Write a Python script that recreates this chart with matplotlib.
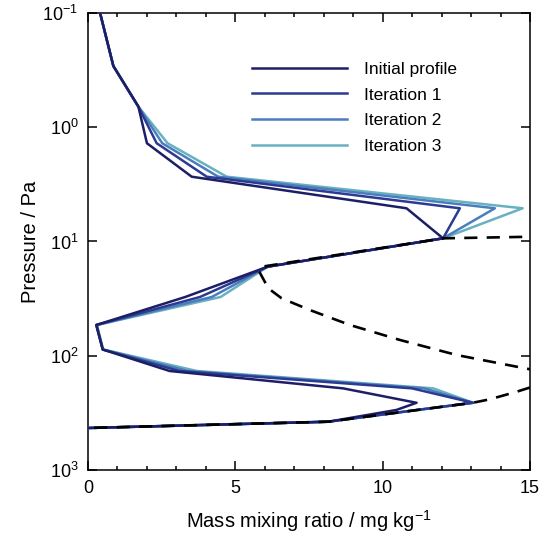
import numpy as np
import matplotlib
matplotlib.use("Agg")
import matplotlib.pyplot as plt
from matplotlib.ticker import MultipleLocator, LogLocator, NullLocator

plt.rcParams['font.family'] = ['Liberation Sans', 'DejaVu Sans']
plt.rcParams['mathtext.default'] = 'regular'

# pressure levels (Pa), shared by all profiles
pressure = [0.1, 0.291, 0.66, 1.38, 2.71, 5.12, 9.38, 16.6, 30.6, 53.8,
            88.2, 136, 193, 258, 298, 378, 429]

# mass mixing ratio (mg/kg) at each level
initial = [0.41, 0.86, 1.71, 2.00, 3.52, 10.81, 12.05, 6.10, 3.30, 0.28,
           0.50, 2.77, 8.66, 11.15, 10.47, 8.15, 0.0]
iter1 = [0.41, 0.86, 1.71, 2.33, 4.03, 12.62, 12.05, 6.10, 3.80, 0.28,
         0.50, 3.10, 11.00, 13.07, 11.18, 8.15, 0.0]
iter2 = [0.41, 0.86, 1.71, 2.52, 4.42, 13.81, 12.05, 6.10, 4.20, 0.30,
         0.50, 3.40, 11.40, 13.07, 11.18, 8.15, 0.0]
iter3 = [0.41, 0.86, 1.71, 2.70, 4.71, 14.75, 12.05, 6.10, 4.50, 0.30,
         0.52, 3.70, 11.72, 13.07, 11.18, 8.15, 0.0]

labels = ['Initial profile', 'Iteration 1', 'Iteration 2', 'Iteration 3']
colors = ['#1d1f66', '#2c3b92', '#4b7dbd', '#68b1c0']

# dashed reference curve (x, p)
ref_x = [15.5, 12.05, 5.85, 5.80, 6.12, 6.57, 7.53, 8.89, 10.59, 12.51,
         15.0, 15.8, 15.0, 14.55, 13.64, 13.07, 8.15, 0.0]
ref_p = [9.04, 9.38, 16.7, 18.1, 25.7, 31.4, 39.8, 53.8, 72.8, 98.5,
         131.4, 156.6, 189.7, 206.4, 240.5, 257.6, 377.7, 428.8]

fig = plt.figure(figsize=(5.5, 5.35), dpi=100)
ax = fig.add_axes([0.16, 0.1215, 0.8036, 0.8542])

# later iterations underneath, initial profile on top
profiles = [initial, iter1, iter2, iter3]
for i, (x, lab, c) in enumerate(zip(profiles, labels, colors)):
    ax.plot(x, pressure, color=c, lw=1.8, label=lab, zorder=3.9 - 0.1 * i)
ax.plot(ref_x, ref_p, color='black', lw=1.9, dashes=(5, 3.5), zorder=4)

ax.set_yscale('log')
ax.set_ylim(1e3, 1e-1)
ax.set_xlim(0, 15)
ax.xaxis.set_major_locator(MultipleLocator(5))
ax.xaxis.set_minor_locator(MultipleLocator(1))
ax.yaxis.set_major_locator(LogLocator(base=10, numticks=10))
ax.yaxis.set_minor_locator(NullLocator())

ax.tick_params(which='both', direction='in', top=True, right=True, width=1.1)
ax.tick_params(which='major', length=6.5, labelsize=13)
ax.tick_params(which='minor', length=3)
ax.tick_params(axis='x', pad=7)
ax.tick_params(axis='y', pad=7)
for s in ax.spines.values():
    s.set_linewidth(1.1)

ax.set_xlabel('Mass mixing ratio / mg kg$^{-1}$', fontsize=14.5, labelpad=8)
ax.set_ylabel('Pressure / Pa', fontsize=14.5, labelpad=2)

ax.legend(loc='center left', bbox_to_anchor=(0.371, 0.7926), frameon=False,
          fontsize=12.5, handlelength=5.45, handletextpad=1.0,
          labelspacing=0.6, borderpad=0, borderaxespad=0)

fig.savefig('out.png', dpi=100)
